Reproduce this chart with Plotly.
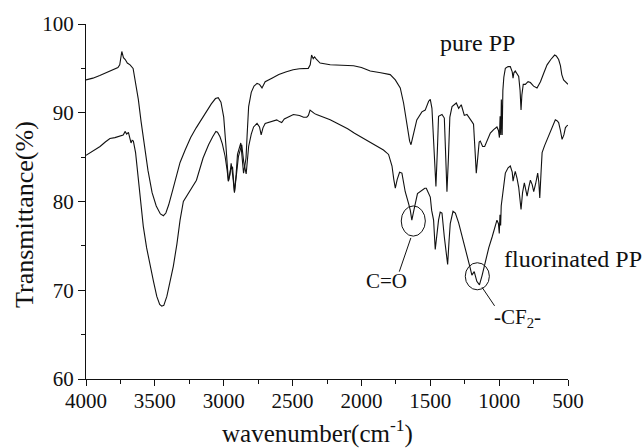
import plotly.graph_objects as go

# ---- data ----
pure_wn = [4000, 3950, 3900, 3870, 3850, 3830, 3810, 3790, 3768, 3755, 3740, 3728, 3715, 3700, 3680,
           3658, 3640, 3620, 3600, 3575, 3550, 3520, 3490, 3460, 3438, 3420, 3400, 3370, 3340, 3317,
           3280, 3240, 3200, 3172, 3130, 3090, 3060, 3040, 3020, 3000, 2985, 2966, 2955, 2946, 2935,
           2922, 2910, 2900, 2876, 2865, 2856, 2845, 2838, 2830, 2819, 2800, 2780, 2758, 2740, 2722,
           2710, 2699, 2650, 2600, 2550, 2496, 2450, 2386, 2372, 2362, 2350, 2340, 2326, 2300, 2227,
           2150, 2057, 2000, 1936, 1860, 1791, 1754, 1718, 1694, 1665, 1650, 1640, 1625, 1610, 1598,
           1561, 1537, 1512, 1500, 1488, 1475, 1459, 1448, 1440, 1415, 1398, 1390, 1379, 1368, 1358,
           1342, 1311, 1294, 1275, 1253, 1234, 1198, 1186, 1176, 1166, 1155, 1145, 1137, 1120, 1105,
           1085, 1064, 1040, 1016, 1005, 998, 993, 988, 984, 978, 973, 966, 955, 935, 919, 905, 899,
           893, 883, 870, 858, 848, 841, 835, 825, 810, 790, 773, 750, 725, 700, 675, 652, 625, 597,
           585, 575, 568, 555, 545, 532, 520, 510, 500]
pure_T = [93.7, 93.9, 94.2, 94.4, 94.5, 94.6, 94.8, 94.9, 95.1, 95.4, 96.9, 96.2, 96.0, 95.6, 95.4,
          95.0, 93.5, 91.5, 89.0, 86.0, 83.5, 81.0, 79.5, 78.6, 78.4, 78.7, 79.6, 81.3, 83.0, 84.4,
          85.8, 87.2, 88.3, 89.0, 90.0, 91.0, 91.6, 91.7, 91.2, 89.5, 86.5, 82.3, 83.0, 84.3, 83.0,
          81.1, 83.0, 85.3, 86.6, 85.0, 83.2, 84.2, 84.9, 87.5, 90.7, 92.3, 93.0, 93.3, 93.2, 92.8,
          93.2, 93.5, 93.9, 94.3, 94.6, 94.85, 94.95, 95.0, 95.4, 96.5, 96.1, 96.3, 96.0, 95.6, 95.4,
          95.35, 95.3, 95.1, 94.7, 94.5, 94.3, 93.7, 92.8, 91.1, 88.5, 86.8, 86.4, 87.5, 88.4, 89.2,
          90.1, 90.3, 91.3, 91.5, 90.5, 86.0, 81.7, 86.0, 89.6, 89.8, 89.4, 86.0, 81.1, 85.0, 89.5,
          90.7, 91.1, 90.5, 90.9, 89.7, 89.8, 89.0, 88.7, 86.0, 83.2, 85.0, 86.7, 86.8, 86.2, 86.2,
          87.0, 87.7, 88.1, 88.4, 88.0, 87.2, 89.6, 87.5, 91.5, 87.5, 92.5, 94.0, 95.0, 95.2, 95.2, 94.6, 93.9,
          94.5, 94.7, 94.4, 94.1, 92.5, 90.3, 92.0, 93.2, 93.2, 93.5, 93.4, 93.0, 92.8, 93.5, 94.5, 95.4, 96.0, 96.5,
          96.4, 96.2, 96.0, 95.3, 94.3, 93.7, 93.5, 93.3, 93.2]

fluor_wn = [4000, 3950, 3898, 3860, 3826, 3790, 3753, 3730, 3715, 3705, 3692, 3680, 3673, 3665, 3656,
            3640, 3632, 3610, 3584, 3560, 3535, 3510, 3486, 3465, 3450, 3435, 3413, 3390, 3366, 3340,
            3317, 3293, 3270, 3230, 3198, 3150, 3110, 3080, 3057, 3045, 3027, 3010, 2990, 2975, 2966,
            2950, 2936, 2922, 2905, 2893, 2869, 2855, 2837, 2828, 2819, 2800, 2783, 2758, 2740, 2728,
            2715, 2699, 2660, 2615, 2595, 2579, 2560, 2530, 2494, 2450, 2420, 2397, 2385, 2373, 2360,
            2340, 2326, 2299, 2260, 2227, 2200, 2154, 2100, 2050, 1985, 1936, 1880, 1840, 1803, 1778,
            1765, 1754, 1740, 1723, 1706, 1695, 1682, 1658, 1645, 1634, 1622, 1614, 1593, 1561, 1540,
            1529, 1513, 1500, 1490, 1476, 1464, 1450, 1440, 1428, 1415, 1398, 1385, 1374, 1364, 1355,
            1335, 1318, 1294, 1275, 1258, 1240, 1222, 1210, 1198, 1181, 1162, 1143, 1125, 1110, 1100,
            1075, 1051, 1030, 1016, 1005, 999, 994, 989, 985, 980, 970, 955, 935, 919, 905, 899, 891,
            883, 870, 858, 841, 830, 817, 807, 797, 785, 773, 760, 749, 735, 720, 712, 705, 695, 688,
            670, 652, 620, 592, 580, 568, 555, 543, 530, 519, 510, 500]
fluor_T = [85.2, 85.7, 86.2, 86.7, 87.1, 87.2, 87.4, 87.5, 87.9, 87.6, 87.8, 87.0, 86.6, 86.9, 86.8,
           85.5, 84.4, 81.5, 77.2, 74.8, 72.7, 71.0, 69.3, 68.4, 68.2, 68.3, 69.3, 71.0, 72.7, 75.2,
           77.9, 80.0, 80.6, 81.6, 82.4, 84.9, 86.4, 87.3, 87.9, 87.8, 87.3, 86.5, 85.1, 83.5, 82.3,
           83.6, 83.9, 81.0, 83.5, 85.1, 86.4, 84.5, 83.1, 84.5, 86.2, 87.6, 88.4, 88.8, 88.4, 87.5,
           88.3, 88.8, 89.0, 89.2, 89.0, 88.9, 89.3, 89.5, 89.8, 89.7, 89.5, 89.5, 89.7, 90.3, 90.1,
           89.9, 89.8, 89.6, 89.4, 89.2, 89.0, 88.65, 88.2, 87.7, 87.1, 86.7, 86.2, 85.8, 85.3, 84.0,
           82.5, 81.5, 82.5, 83.3, 83.2, 82.0, 81.1, 79.8, 79.0, 77.9, 79.1, 79.4, 80.9, 81.3, 81.5,
           81.5, 80.9, 80.5, 79.0, 77.9, 74.6, 77.0, 77.9, 78.8, 78.7, 76.0, 74.0, 72.9, 75.5, 77.5,
           78.9, 78.7, 77.6, 76.5, 75.3, 74.4, 73.4, 72.5, 71.7, 72.1, 71.0, 70.6, 71.6, 72.6, 73.4,
           74.8, 76.0, 77.2, 77.9, 77.5, 76.4, 78.5, 77.3, 79.5, 80.2, 81.5, 83.2, 83.8, 84.0, 83.3, 82.3, 82.9,
           83.4, 82.6, 81.6, 79.1, 81.0, 82.1, 81.5, 80.6, 81.6, 82.4, 81.9, 81.1, 82.0, 83.2, 82.2, 80.4, 83.5, 85.5,
           86.3, 87.0, 88.3, 89.2, 89.1, 88.9, 88.0, 87.0, 87.5, 88.3, 88.5, 88.6]

x_ticks = [4000, 3500, 3000, 2500, 2000, 1500, 1000, 500]
y_ticks = [60, 70, 80, 90, 100]

FONT = "Liberation Serif"
INK = "#111111"

fig = go.Figure()
fig.add_trace(go.Scatter(x=pure_wn, y=pure_T, mode="lines", name="pure PP",
                         line=dict(color=INK, width=1.1)))
fig.add_trace(go.Scatter(x=fluor_wn, y=fluor_T, mode="lines", name="fluorinated PP",
                         line=dict(color=INK, width=1.1)))

# curve labels
fig.add_annotation(x=1159, y=97.86, text="pure PP", showarrow=False,
                   font=dict(family=FONT, size=24, color=INK))
fig.add_annotation(x=979, y=73.5, text="fluorinated PP", showarrow=False, xanchor="left",
                   font=dict(family=FONT, size=24, color=INK))
fig.add_annotation(x=1815, y=71.0, text="C=O", showarrow=False,
                   font=dict(family=FONT, size=21, color=INK))
fig.add_annotation(x=870, y=66.85, text="-CF<sub>2</sub>-", showarrow=False,
                   font=dict(family=FONT, size=21, color=INK))

# axis titles (placed as annotations to match the reference offsets)
fig.add_annotation(xref="paper", yref="paper", x=0.4813, y=-0.148, text="wavenumber(cm<sup>-1</sup>)",
                   showarrow=False, xanchor="center", yanchor="middle",
                   font=dict(family=FONT, size=25, color=INK))
fig.add_annotation(xref="paper", yref="paper", x=-0.1266, y=0.4648, text="Transmittance(%)",
                   showarrow=False, textangle=-90, xanchor="center", yanchor="middle",
                   font=dict(family=FONT, size=26, color=INK))

# ellipses and leader lines
fig.add_shape(type="circle", xref="x", yref="y", x0=1711, x1=1536, y0=76.1, y1=79.5,
              line=dict(color=INK, width=1))
fig.add_shape(type="line", xref="x", yref="y", x0=1641, y0=75.9, x1=1725, y1=72.1,
              line=dict(color=INK, width=1))
fig.add_shape(type="circle", xref="x", yref="y", x0=1246, x1=1071, y0=70.05, y1=73.1,
              line=dict(color=INK, width=1))
fig.add_shape(type="line", xref="x", yref="y", x0=1125, y0=70.35, x1=1033, y1=68.24,
              line=dict(color=INK, width=1))

fig.update_layout(
    width=643, height=448,
    margin=dict(l=86, r=75, t=24, b=69, autoexpand=False),
    paper_bgcolor="white", plot_bgcolor="white",
    showlegend=False,
    font=dict(family=FONT, size=21, color=INK),
)
fig.update_xaxes(
    range=[4000, 500], tickvals=x_ticks, ticktext=[str(v) for v in x_ticks],
    showline=True, linecolor=INK, linewidth=1.2, mirror=False,
    ticks="outside", ticklen=6, tickwidth=1.2, tickcolor=INK,
    minor=dict(dtick=250, ticks="outside", ticklen=4, tickwidth=1.2, tickcolor=INK),
    showgrid=False, zeroline=False, ticklabelstandoff=-3,
    tickfont=dict(family=FONT, size=21, color=INK),
)
fig.update_yaxes(
    range=[60, 100], tickvals=y_ticks, ticktext=[str(v) for v in y_ticks],
    showline=True, linecolor=INK, linewidth=1.2, mirror=False,
    ticks="outside", ticklen=7, tickwidth=1.2, tickcolor=INK,
    minor=dict(dtick=5, ticks="outside", ticklen=4, tickwidth=1.2, tickcolor=INK),
    showgrid=False, zeroline=False,
    tickfont=dict(family=FONT, size=21, color=INK),
)

fig.write_html("out.html")
